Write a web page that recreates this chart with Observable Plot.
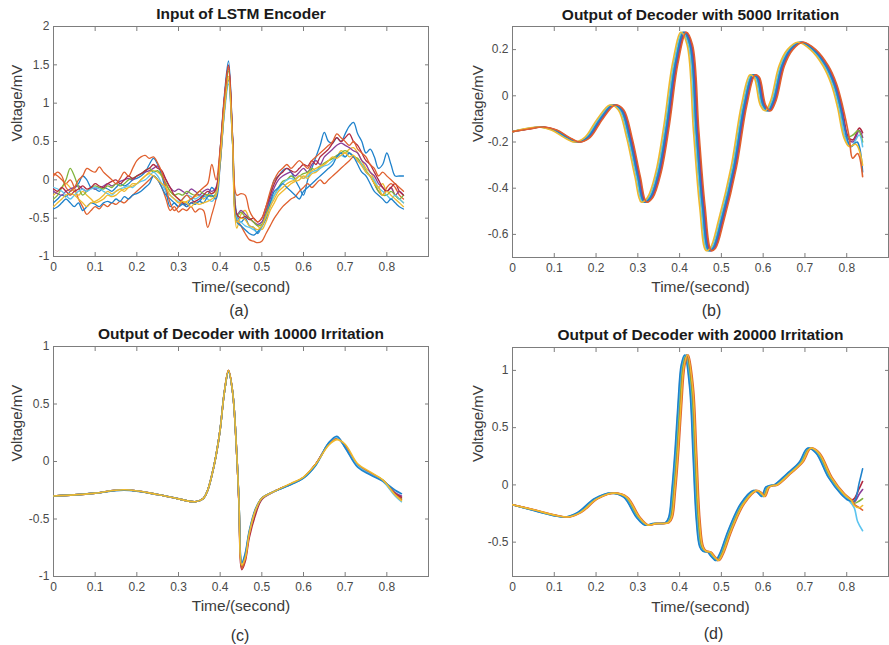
<!DOCTYPE html>
<html><head><meta charset="utf-8">
<script src="https://cdn.jsdelivr.net/npm/d3@7"></script>
<script src="https://cdn.jsdelivr.net/npm/@observablehq/plot@0.6"></script>
<style>
body{margin:0;background:#fff;}
#root{position:relative;width:889px;height:645px;overflow:hidden;background:#fff;}
</style></head><body><div id="root"></div>
<script>
// ---------- tick labels ----------
const xTicks = [0, 0.1, 0.2, 0.3, 0.4, 0.5, 0.6, 0.7, 0.8];
const yTicksA = [-1, -0.5, 0, 0.5, 1, 1.5, 2];
const yTicksB = [-0.6, -0.4, -0.2, 0, 0.2];
const yTicksC = [-1, -0.5, 0, 0.5, 1];
const yTicksD = [-0.5, 0, 0.5, 1];

// ---------- (a) input of LSTM encoder ----------
const timeA = [0,0.01,0.02,0.03,0.04,0.05,0.06,0.07,0.08,0.09,0.1,0.11,0.12,0.13,0.14,0.15,0.16,0.17,0.18,0.19,0.2,0.21,0.22,0.23,0.24,0.25,0.26,0.27,0.28,0.29,0.3,0.31,0.32,0.33,0.34,0.35,0.36,0.37,0.38,0.39,0.4,0.41,0.42,0.43,0.44,0.45,0.46,0.47,0.48,0.49,0.5,0.51,0.52,0.53,0.54,0.55,0.56,0.57,0.58,0.59,0.6,0.61,0.62,0.63,0.64,0.65,0.66,0.67,0.68,0.69,0.7,0.71,0.72,0.73,0.74,0.75,0.76,0.77,0.78,0.79,0.8,0.81,0.82,0.83,0.84];
const a1 = [-0.3,-0.25,-0.2,-0.22,-0.15,-0.1,-0.05,0.05,0.0,-0.1, -0.12,-0.15,-0.1,-0.12,-0.15,-0.1,-0.05,-0.08,-0.05,0.0, 0.02,0.05,0.1,0.2,0.28,0.2,0.05,-0.15,-0.35,-0.3, -0.35,-0.3,-0.32,-0.25,-0.3,-0.28,-0.22,-0.2,-0.1,-0.15, 0.4,1.1,1.55,0.55,-0.45,-0.55,-0.5,-0.6,-0.62,-0.7, -0.6,-0.45,-0.2,0.0,0.05,0.12,0.15,0.1,0.0,-0.1, -0.2,0.0,0.15,0.3,0.45,0.62,0.5,0.48,0.55,0.5, 0.6,0.7,0.75,0.6,0.5,0.35,0.4,0.3,0.15,0.2, 0.35,0.2,0.05,0.05,0.05];
const a2 = [0.08,0.05,0.0,-0.05,0.0,-0.1,-0.25,-0.35,-0.45,-0.4, -0.35,-0.38,-0.32,-0.35,-0.3,-0.32,-0.28,-0.3,-0.25,-0.2, -0.15,-0.1,-0.05,0.0,0.05,0.0,-0.1,-0.25,-0.4,-0.35, -0.42,-0.38,-0.4,-0.35,-0.42,-0.38,-0.4,-0.62,-0.45,-0.25, 0.2,0.9,1.45,0.5,-0.5,-0.6,-0.7,-0.78,-0.8,-0.82, -0.8,-0.7,-0.6,-0.5,-0.42,-0.35,-0.3,-0.25,-0.22,-0.15, -0.1,-0.05,-0.1,-0.05,0.0,-0.05,0.0,0.05,0.1,0.15, 0.2,0.25,0.3,0.25,0.2,0.1,0.05,-0.05,-0.15,-0.2, -0.1,-0.05,-0.1,-0.2,-0.25];
const a3 = [-0.2,-0.15,-0.1,-0.05,-0.1,-0.15,-0.2,-0.15,-0.2,-0.25, -0.3,-0.28,-0.25,-0.2,-0.22,-0.2,-0.15,-0.12,-0.1,-0.05, -0.05,0.0,0.05,0.1,0.12,0.1,0.05,-0.05,-0.15,-0.2, -0.25,-0.3,-0.28,-0.25,-0.22,-0.2,-0.25,-0.2,-0.18,-0.15, 0.3,0.95,1.35,0.45,-0.63,-0.45,-0.4,-0.5,-0.55,-0.6, -0.65,-0.55,-0.4,-0.3,-0.2,-0.15,-0.1,-0.05,-0.02,0.0, 0.05,0.02,0.08,0.1,0.15,0.2,0.25,0.28,0.3,0.38, 0.35,0.4,0.42,0.35,0.25,0.15,0.1,0.0,-0.1,-0.05, -0.15,-0.1,-0.2,-0.25,-0.3];
const a4 = [-0.15,-0.18,-0.2,-0.15,-0.12,-0.1,-0.08,-0.12,-0.15,-0.1, -0.12,-0.1,-0.08,-0.05,-0.08,-0.05,-0.02,0.0,0.02,0.0, 0.05,0.08,0.1,0.12,0.15,0.18,0.1,0.0,-0.1,-0.15, -0.12,-0.15,-0.18,-0.12,-0.15,-0.2,-0.15,-0.12,-0.15,-0.1, 0.35,1.05,1.48,0.5,-0.45,-0.4,-0.45,-0.5,-0.55,-0.58, -0.55,-0.4,-0.25,-0.1,0.0,0.05,0.08,0.1,0.05,0.1, 0.15,0.1,0.2,0.25,0.2,0.3,0.35,0.4,0.45,0.48, 0.45,0.42,0.38,0.35,0.25,0.2,0.1,0.05,-0.05,-0.1, -0.15,-0.1,-0.2,-0.15,-0.2];
const a5 = [-0.25,-0.2,-0.1,0.0,0.15,0.05,-0.1,-0.2,-0.15,-0.1, -0.08,-0.1,-0.12,-0.08,-0.1,-0.05,-0.08,-0.05,0.0,0.02, 0.05,0.08,0.12,0.15,0.1,0.12,0.05,-0.05,-0.15,-0.2, -0.18,-0.2,-0.15,-0.18,-0.2,-0.15,-0.18,-0.2,-0.22,-0.18, 0.3,1.0,1.42,0.5,-0.48,-0.42,-0.48,-0.5,-0.55,-0.6, -0.58,-0.45,-0.3,-0.2,-0.1,-0.02,0.0,0.05,0.02,0.05, 0.08,0.1,0.15,0.12,0.18,0.22,0.25,0.28,0.32,0.35, 0.38,0.35,0.3,0.28,0.2,0.12,0.05,-0.05,-0.15,-0.2, -0.2,-0.15,-0.2,-0.25,-0.2];
const a6 = [-0.1,-0.12,-0.15,-0.2,-0.25,-0.2,-0.15,-0.12,-0.15,-0.12, -0.1,-0.12,-0.15,-0.18,-0.2,-0.15,-0.12,-0.1,-0.08,-0.1, -0.05,-0.02,0.0,0.05,0.1,0.05,-0.05,-0.15,-0.2,-0.25, -0.28,-0.25,-0.2,-0.22,-0.25,-0.22,-0.2,-0.25,-0.28,-0.2, 0.25,0.85,1.25,0.45,-0.5,-0.55,-0.6,-0.62,-0.65,-0.68, -0.62,-0.5,-0.35,-0.2,-0.12,-0.05,0.0,0.02,0.0,0.05, 0.02,0.05,0.1,0.12,0.15,0.18,0.2,0.25,0.3,0.32, 0.3,0.35,0.3,0.25,0.2,0.1,0.05,0.0,-0.1,-0.15, -0.2,-0.25,-0.2,-0.25,-0.3];
const a7 = [-0.12,-0.15,-0.1,-0.15,-0.2,-0.15,-0.12,-0.08,-0.12,-0.1, -0.05,-0.08,-0.1,-0.05,-0.02,0.0,-0.05,0.0,0.05,0.02, 0.05,0.08,0.12,0.15,0.2,0.15,0.12,0.0,-0.1,-0.2, -0.25,-0.3,-0.35,-0.3,-0.28,-0.25,-0.2,-0.15,-0.18,-0.12, 0.4,1.05,1.5,0.55,-0.45,-0.5,-0.48,-0.52,-0.5,-0.55, -0.5,-0.35,-0.2,-0.05,0.05,0.1,0.15,0.12,0.1,0.15, 0.2,0.18,0.25,0.2,0.3,0.35,0.4,0.48,0.55,0.5, 0.55,0.6,0.5,0.45,0.35,0.25,0.2,0.1,0.0,-0.1, -0.15,-0.1,-0.05,-0.15,-0.2];
const a8 = [-0.38,-0.35,-0.3,-0.25,-0.3,-0.35,-0.3,-0.4,-0.35,-0.3, -0.32,-0.35,-0.3,-0.28,-0.3,-0.25,-0.28,-0.22,-0.25,-0.2, -0.18,-0.15,-0.1,-0.05,0.05,0.0,-0.1,-0.2,-0.25,-0.3, -0.35,-0.32,-0.35,-0.3,-0.32,-0.28,-0.3,-0.22,-0.2,-0.25, 0.2,0.9,1.3,0.45,-0.55,-0.6,-0.65,-0.7,-0.72,-0.68, -0.6,-0.5,-0.3,-0.15,-0.1,-0.05,-0.1,-0.15,-0.2,-0.25, -0.15,-0.1,-0.05,0.0,0.05,0.1,0.15,0.2,0.3,0.35, 0.3,0.35,0.3,0.2,0.1,0.05,-0.05,-0.15,-0.2,-0.25, -0.3,-0.25,-0.3,-0.35,-0.38];
const a9 = [0.05,0.1,0.05,-0.1,-0.15,-0.1,0.0,0.05,0.15,0.12, 0.1,0.17,0.1,0.05,0.0,-0.05,0.02,0.1,0.05,0.15, 0.25,0.3,0.32,0.28,0.3,0.22,0.1,-0.1,-0.3,-0.4, -0.35,-0.25,-0.2,-0.25,-0.2,-0.15,-0.1,-0.05,0.2,0.0, 0.4,1.05,1.48,0.5,-0.2,-0.18,-0.2,-0.4,-0.5,-0.55, -0.5,-0.35,-0.15,0.0,0.1,0.15,0.2,0.15,0.2,0.25, 0.2,0.15,0.25,0.3,0.35,0.4,0.45,0.5,0.6,0.55, 0.5,0.45,0.5,0.4,0.35,0.3,0.2,0.15,0.05,0.1, 0.05,0.0,-0.05,-0.1,-0.15];
const a10 = [-0.35,-0.3,-0.25,-0.2,-0.18,-0.2,-0.25,-0.3,-0.35,-0.3, -0.28,-0.25,-0.2,-0.15,-0.18,-0.15,-0.12,-0.15,-0.1,-0.08, -0.05,0.0,0.05,0.08,0.05,0.0,-0.05,-0.1,-0.2,-0.25, -0.3,-0.28,-0.3,-0.35,-0.3,-0.32,-0.3,-0.28,-0.25,-0.2, 0.25,0.9,1.32,0.45,-0.55,-0.5,-0.52,-0.6,-0.62,-0.65, -0.6,-0.48,-0.35,-0.25,-0.15,-0.1,-0.05,-0.02,0.0,0.05, 0.02,0.08,0.12,0.15,0.18,0.2,0.25,0.3,0.28,0.32, 0.35,0.3,0.32,0.25,0.18,0.1,0.05,-0.05,-0.1,-0.2, -0.15,-0.2,-0.25,-0.3,-0.35];

// ---------- (b) decoder output, 5000 iterations ----------
const bStart = [0, -0.155];
const bVolt = [-0.145,-0.135,-0.148,-0.18,-0.2,-0.18,-0.1,-0.04,-0.06,-0.18,-0.35,-0.46,-0.44,-0.33,-0.12,0.14,0.275,0.22,-0.15,-0.48,-0.67,-0.66,-0.54,-0.31,-0.04,0.09,0.08,-0.04,-0.065,-0.02,0.13,0.2,0.232,0.2,0.13,0.05,-0.05,-0.18];
const bTimeBlue = [0.03,0.07,0.1,0.13,0.155,0.18,0.21,0.24,0.26,0.28,0.3,0.315,0.33,0.35,0.37,0.39,0.41,0.425,0.44,0.455,0.47,0.48,0.5,0.53,0.555,0.575,0.585,0.6,0.612,0.625,0.645,0.665,0.69,0.72,0.75,0.77,0.785,0.8];
const bTimeOrange = [0.036,0.076,0.106,0.136,0.161,0.186,0.216,0.246,0.266,0.286,0.306,0.321,0.336,0.356,0.376,0.396,0.416,0.431,0.446,0.461,0.476,0.486,0.506,0.536,0.561,0.581,0.591,0.606,0.618,0.631,0.651,0.671,0.696,0.726,0.756,0.776,0.791,0.806];
const bTimeYellow = [0.023,0.063,0.093,0.123,0.148,0.173,0.203,0.233,0.253,0.273,0.293,0.308,0.323,0.343,0.363,0.383,0.403,0.418,0.433,0.448,0.463,0.473,0.493,0.523,0.548,0.568,0.578,0.593,0.605,0.618,0.638,0.658,0.683,0.713,0.743,0.763,0.778,0.793];
const bTimePurple = [0.032,0.072,0.102,0.132,0.157,0.182,0.212,0.242,0.262,0.282,0.302,0.317,0.332,0.352,0.372,0.392,0.412,0.427,0.442,0.457,0.472,0.482,0.502,0.532,0.557,0.577,0.587,0.602,0.614,0.627,0.647,0.667,0.692,0.722,0.752,0.772,0.787,0.802];
const bTimeGreen = [0.028,0.068,0.098,0.128,0.153,0.178,0.208,0.238,0.258,0.278,0.298,0.313,0.328,0.348,0.368,0.388,0.408,0.423,0.438,0.453,0.468,0.478,0.498,0.528,0.553,0.573,0.583,0.598,0.610,0.623,0.643,0.663,0.688,0.718,0.748,0.768,0.783,0.798];
const bTimeLightblue = [0.026,0.066,0.096,0.126,0.151,0.176,0.206,0.236,0.256,0.276,0.296,0.311,0.326,0.346,0.366,0.386,0.406,0.421,0.436,0.451,0.466,0.476,0.496,0.526,0.551,0.571,0.581,0.596,0.608,0.621,0.641,0.661,0.686,0.716,0.746,0.766,0.781,0.796];
const bTimeDarkred = [0.034,0.074,0.104,0.134,0.159,0.184,0.214,0.244,0.264,0.284,0.304,0.319,0.334,0.354,0.374,0.394,0.414,0.429,0.444,0.459,0.474,0.484,0.504,0.534,0.559,0.579,0.589,0.604,0.616,0.629,0.649,0.669,0.694,0.724,0.754,0.774,0.789,0.804];
const bTailBlue = [[0.81,-0.22],[0.825,-0.2],[0.838,-0.33]];
const bTailOrange = [[0.814,-0.27],[0.826,-0.25],[0.838,-0.35]];
const bTailYellow = [[0.806,-0.22],[0.822,-0.21],[0.838,-0.3]];
const bTailPurple = [[0.815,-0.2],[0.83,-0.15],[0.838,-0.18]];
const bTailGreen = [[0.815,-0.17],[0.828,-0.15],[0.838,-0.2]];
const bTailLightblue = [[0.81,-0.22],[0.83,-0.17],[0.838,-0.22]];
const bTailDarkred = [[0.815,-0.19],[0.83,-0.14],[0.838,-0.16]];

// ---------- (c) decoder output, 10000 iterations ----------
const cTime = [0,0.05,0.1,0.17,0.25,0.3,0.34,0.36,0.37,0.38,0.39,0.4,0.41,0.42,0.43,0.44,0.445,0.452,0.46,0.47,0.485,0.5,0.53,0.57,0.6,0.63,0.66,0.68,0.7,0.73,0.76,0.79,0.82,0.835];
const cBlue = [-0.3,-0.29,-0.275,-0.25,-0.287,-0.325,-0.35,-0.32,-0.25,-0.12,0.05,0.28,0.6,0.78,0.6,0.05,-0.33,-0.88,-0.8,-0.6,-0.41,-0.32,-0.26,-0.2,-0.145,-0.03,0.16,0.22,0.12,-0.05,-0.115,-0.17,-0.25,-0.28];
const cOrange = [-0.3,-0.29,-0.275,-0.246,-0.287,-0.325,-0.35,-0.32,-0.25,-0.12,0.05,0.28,0.6,0.79,0.6,0.05,-0.35,-0.93,-0.85,-0.63,-0.43,-0.32,-0.26,-0.195,-0.14,-0.02,0.15,0.2,0.13,-0.03,-0.1,-0.165,-0.29,-0.33];
const cYellow = [-0.3,-0.29,-0.275,-0.246,-0.287,-0.325,-0.35,-0.32,-0.25,-0.12,0.05,0.28,0.6,0.79,0.6,0.05,-0.34,-0.9,-0.84,-0.62,-0.42,-0.32,-0.26,-0.19,-0.135,-0.02,0.14,0.19,0.15,-0.02,-0.09,-0.16,-0.29,-0.34];
const cPurple = [-0.3,-0.29,-0.275,-0.246,-0.287,-0.325,-0.35,-0.32,-0.25,-0.12,0.05,0.28,0.6,0.79,0.6,0.05,-0.35,-0.92,-0.84,-0.62,-0.42,-0.32,-0.26,-0.195,-0.14,-0.02,0.155,0.21,0.13,-0.035,-0.1,-0.165,-0.27,-0.3];
const cGreen = [-0.3,-0.29,-0.275,-0.246,-0.287,-0.325,-0.35,-0.32,-0.25,-0.12,0.05,0.28,0.6,0.79,0.6,0.05,-0.34,-0.91,-0.83,-0.62,-0.42,-0.32,-0.26,-0.195,-0.14,-0.02,0.15,0.2,0.14,-0.03,-0.1,-0.16,-0.28,-0.32];
const cLightblue = [-0.3,-0.29,-0.275,-0.246,-0.287,-0.325,-0.35,-0.32,-0.25,-0.12,0.05,0.28,0.6,0.78,0.6,0.05,-0.33,-0.88,-0.81,-0.61,-0.42,-0.32,-0.26,-0.2,-0.145,-0.03,0.16,0.21,0.12,-0.04,-0.11,-0.17,-0.3,-0.35];
const cDarkred = [-0.3,-0.29,-0.275,-0.246,-0.287,-0.325,-0.35,-0.32,-0.25,-0.12,0.05,0.28,0.6,0.79,0.6,0.05,-0.36,-0.94,-0.87,-0.66,-0.46,-0.33,-0.26,-0.195,-0.14,-0.02,0.15,0.205,0.13,-0.035,-0.1,-0.165,-0.28,-0.31];

// ---------- (d) decoder output, 20000 iterations ----------
const dStart = [0, -0.173];
const dVolt = [-0.22,-0.266,-0.28,-0.24,-0.12,-0.072,-0.107,-0.28,-0.35,-0.338,-0.33,-0.28,-0.06,0.3,0.7,1.05,1.135,0.85,0.27,-0.31,-0.54,-0.58,-0.585,-0.627,-0.66,-0.6,-0.4,-0.165,-0.05,-0.064,-0.1,-0.02,-0.005,0.0,0.095,0.197,0.32,0.28,0.066,-0.078,-0.135];
const dTimeBlue = [0.046,0.096,0.126,0.156,0.196,0.236,0.266,0.296,0.316,0.336,0.366,0.374,0.381,0.389,0.396,0.404,0.412,0.424,0.432,0.44,0.448,0.456,0.466,0.476,0.486,0.496,0.516,0.546,0.576,0.586,0.596,0.606,0.616,0.626,0.656,0.686,0.706,0.726,0.756,0.786,0.804];
const dTimeOrange = [0.055,0.105,0.135,0.165,0.205,0.245,0.275,0.305,0.325,0.345,0.375,0.383,0.39,0.398,0.405,0.413,0.421,0.433,0.441,0.449,0.457,0.465,0.475,0.485,0.495,0.505,0.525,0.555,0.585,0.595,0.605,0.615,0.625,0.635,0.665,0.695,0.715,0.735,0.765,0.795,0.813];
const dTimeYellow = [0.053,0.103,0.133,0.163,0.203,0.243,0.273,0.303,0.323,0.343,0.373,0.381,0.388,0.396,0.403,0.411,0.419,0.431,0.439,0.447,0.455,0.463,0.473,0.483,0.493,0.503,0.523,0.553,0.583,0.593,0.603,0.613,0.623,0.633,0.663,0.693,0.713,0.733,0.763,0.793,0.811];
const dTimePurple = [0.051,0.101,0.131,0.161,0.201,0.241,0.271,0.301,0.321,0.341,0.371,0.379,0.386,0.394,0.401,0.409,0.417,0.429,0.437,0.445,0.453,0.461,0.471,0.481,0.491,0.501,0.521,0.551,0.581,0.591,0.601,0.611,0.621,0.631,0.661,0.691,0.711,0.731,0.761,0.791,0.809];
const dTimeGreen = [0.049,0.099,0.129,0.159,0.199,0.239,0.269,0.299,0.319,0.339,0.369,0.377,0.384,0.392,0.399,0.407,0.415,0.427,0.435,0.443,0.451,0.459,0.469,0.479,0.489,0.499,0.519,0.549,0.579,0.589,0.599,0.609,0.619,0.629,0.659,0.689,0.709,0.729,0.759,0.789,0.807];
const dTimeLightblue = [0.047,0.097,0.127,0.157,0.197,0.237,0.267,0.297,0.317,0.337,0.367,0.375,0.382,0.39,0.397,0.405,0.413,0.425,0.433,0.441,0.449,0.457,0.467,0.477,0.487,0.497,0.517,0.547,0.577,0.587,0.597,0.607,0.617,0.627,0.657,0.687,0.707,0.727,0.757,0.787,0.805];
const dTimeDarkred = [0.052,0.102,0.132,0.162,0.202,0.242,0.272,0.302,0.322,0.342,0.372,0.38,0.387,0.395,0.402,0.41,0.418,0.43,0.438,0.446,0.454,0.462,0.472,0.482,0.492,0.502,0.522,0.552,0.582,0.592,0.602,0.612,0.622,0.632,0.662,0.692,0.712,0.732,0.762,0.792,0.81];
const dTailBlue = [[0.818,-0.14],[0.83,0.02],[0.838,0.14]];
const dTailOrange = [[0.818,-0.17],[0.83,-0.2],[0.838,-0.22]];
const dTailYellow = [[0.818,-0.18],[0.83,-0.2],[0.838,-0.18]];
const dTailPurple = [[0.818,-0.15],[0.83,-0.08],[0.838,-0.04]];
const dTailGreen = [[0.818,-0.16],[0.83,-0.14],[0.838,-0.12]];
const dTailLightblue = [[0.818,-0.2],[0.826,-0.32],[0.838,-0.4]];
const dTailDarkred = [[0.818,-0.12],[0.83,-0.03],[0.838,0.03]];

// ---------- styling ----------
const C = {blue:"#1f82cc", orange:"#e0602e", yellow:"#efb92e", purple:"#8a3f99", green:"#80b43c", lightblue:"#5cc4ef", darkred:"#b02a40"};
const FONT = "'Liberation Sans', Arial, Helvetica, sans-serif";

const gridSeries = (ys) => timeA.map((t, i) => ({t, v: ys[i]}));
const shifted = (start, times, volts, tail) =>
  [{t: start[0], v: start[1]}]
    .concat(times.map((t, i) => ({t, v: volts[i]})))
    .concat(tail.map(([t, v]) => ({t, v})));
const onTime = (times, ys) => times.map((t, i) => ({t, v: ys[i]}));

const seriesA = [
  [C.blue, a1], [C.orange, a2], [C.yellow, a3], [C.purple, a4], [C.green, a5],
  [C.lightblue, a6], [C.darkred, a7], [C.blue, a8], [C.orange, a9], [C.yellow, a10]
].map(([color, ys]) => ({color, pts: gridSeries(ys)}));

// drawing order: last one on top
const seriesB = [
  [C.darkred, bTimeDarkred, bTailDarkred], [C.purple, bTimePurple, bTailPurple],
  [C.green, bTimeGreen, bTailGreen], [C.lightblue, bTimeLightblue, bTailLightblue],
  [C.blue, bTimeBlue, bTailBlue], [C.yellow, bTimeYellow, bTailYellow], [C.orange, bTimeOrange, bTailOrange]
].map(([color, times, tail]) => ({color, pts: shifted(bStart, times, bVolt, tail)}));

const seriesC = [
  [C.purple, cPurple], [C.green, cGreen], [C.darkred, cDarkred], [C.orange, cOrange],
  [C.lightblue, cLightblue], [C.blue, cBlue], [C.yellow, cYellow]
].map(([color, ys]) => ({color, pts: onTime(cTime, ys)}));

const seriesD = [
  [C.purple, dTimePurple, dTailPurple], [C.darkred, dTimeDarkred, dTailDarkred],
  [C.green, dTimeGreen, dTailGreen], [C.lightblue, dTimeLightblue, dTailLightblue],
  [C.blue, dTimeBlue, dTailBlue], [C.orange, dTimeOrange, dTailOrange], [C.yellow, dTimeYellow, dTailYellow]
].map(([color, times, tail]) => ({color, pts: shifted(dStart, times, dVolt, tail)}));

function panel(cfg) {
  const marks = [
    Plot.frame({stroke: "#7d7d7d", strokeWidth: 1}),
    Plot.axisX({anchor: "bottom", ticks: xTicks, tickSize: -4, tickPadding: 10, tickFormat: d => String(d), label: null, stroke: "#7d7d7d", fill: "#4a4a4a", fontSize: 12}),
    Plot.axisX({anchor: "top", ticks: xTicks, tickSize: -4, tickFormat: () => "", label: null, stroke: "#7d7d7d"}),
    Plot.axisY({anchor: "left", ticks: cfg.yTicks, tickSize: -4, tickPadding: 8, tickFormat: d => String(d), label: null, stroke: "#7d7d7d", fill: "#4a4a4a", fontSize: 12}),
    Plot.axisY({anchor: "right", ticks: cfg.yTicks, tickSize: -4, tickFormat: () => "", label: null, stroke: "#7d7d7d"})
  ];
  for (const s of cfg.series) {
    marks.push(Plot.line(s.pts, {x: "t", y: "v", stroke: s.color, strokeWidth: cfg.sw, curve: "catmull-rom", clip: true}));
  }
  marks.push(
    Plot.text([cfg.title], {text: d => d, frameAnchor: "top", lineAnchor: "middle", dy: cfg.titleDy, fontSize: 15.5, fontWeight: "bold", fill: "#1a1a1a"}),
    Plot.text(["Time/(second)"], {text: d => d, frameAnchor: "bottom", lineAnchor: "middle", dy: cfg.xLabelDy, fontSize: 15.5, fill: "#3c3c3c"}),
    Plot.text(["Voltage/mV"], {text: d => d, frameAnchor: "left", lineAnchor: "middle", dx: cfg.yLabelDx, rotate: -90, fontSize: 15, fill: "#3c3c3c"}),
    Plot.text([cfg.caption], {text: d => d, frameAnchor: "bottom", lineAnchor: "middle", dy: cfg.capDy, dx: cfg.capDx, fontSize: 16, fill: "#333"})
  );
  const svg = Plot.plot({
    width: cfg.width, height: cfg.height,
    marginLeft: cfg.mL, marginRight: cfg.mR, marginTop: cfg.mT, marginBottom: cfg.mB,
    x: {domain: [0, 0.9]},
    y: {domain: cfg.yDomain},
    style: {fontFamily: FONT, fontSize: "12px", color: "#4a4a4a", background: "transparent", overflow: "visible",
            position: "absolute", left: cfg.left + "px", top: cfg.top + "px"},
    marks
  });
  document.getElementById("root").append(svg);
}

panel({left: 0, top: 0, width: 444, height: 320, mL: 53, mR: 16, mT: 26, mB: 64, sw: 1.3,
  yDomain: [-1, 2], yTicks: yTicksA, series: seriesA,
  title: "Input of LSTM Encoder", caption: "(a)", titleDy: -12, xLabelDy: 31, yLabelDx: -36, capDy: 54, capDx: -2});
panel({left: 445, top: 0, width: 444, height: 320, mL: 67, mR: 1, mT: 26, mB: 63, sw: 1.6,
  yDomain: [-0.7, 0.3], yTicks: yTicksB, series: seriesB,
  title: "Output of Decoder with 5000 Irritation", caption: "(b)", titleDy: -11, xLabelDy: 30, yLabelDx: -34, capDy: 53, capDx: 11});
panel({left: 0, top: 320, width: 444, height: 325, mL: 53, mR: 16, mT: 26, mB: 69, sw: 1.6,
  yDomain: [-1, 1], yTicks: yTicksC, series: seriesC,
  title: "Output of Decoder with 10000 Irritation", caption: "(c)", titleDy: -12, xLabelDy: 30, yLabelDx: -36, capDy: 59, capDx: -1});
panel({left: 445, top: 320, width: 444, height: 325, mL: 67, mR: 1, mT: 27, mB: 69, sw: 1.6,
  yDomain: [-0.8, 1.2], yTicks: yTicksD, series: seriesD,
  title: "Output of Decoder with 20000 Irritation", caption: "(d)", titleDy: -12, xLabelDy: 31, yLabelDx: -34, capDy: 57, capDx: 13});
</script></body></html>
